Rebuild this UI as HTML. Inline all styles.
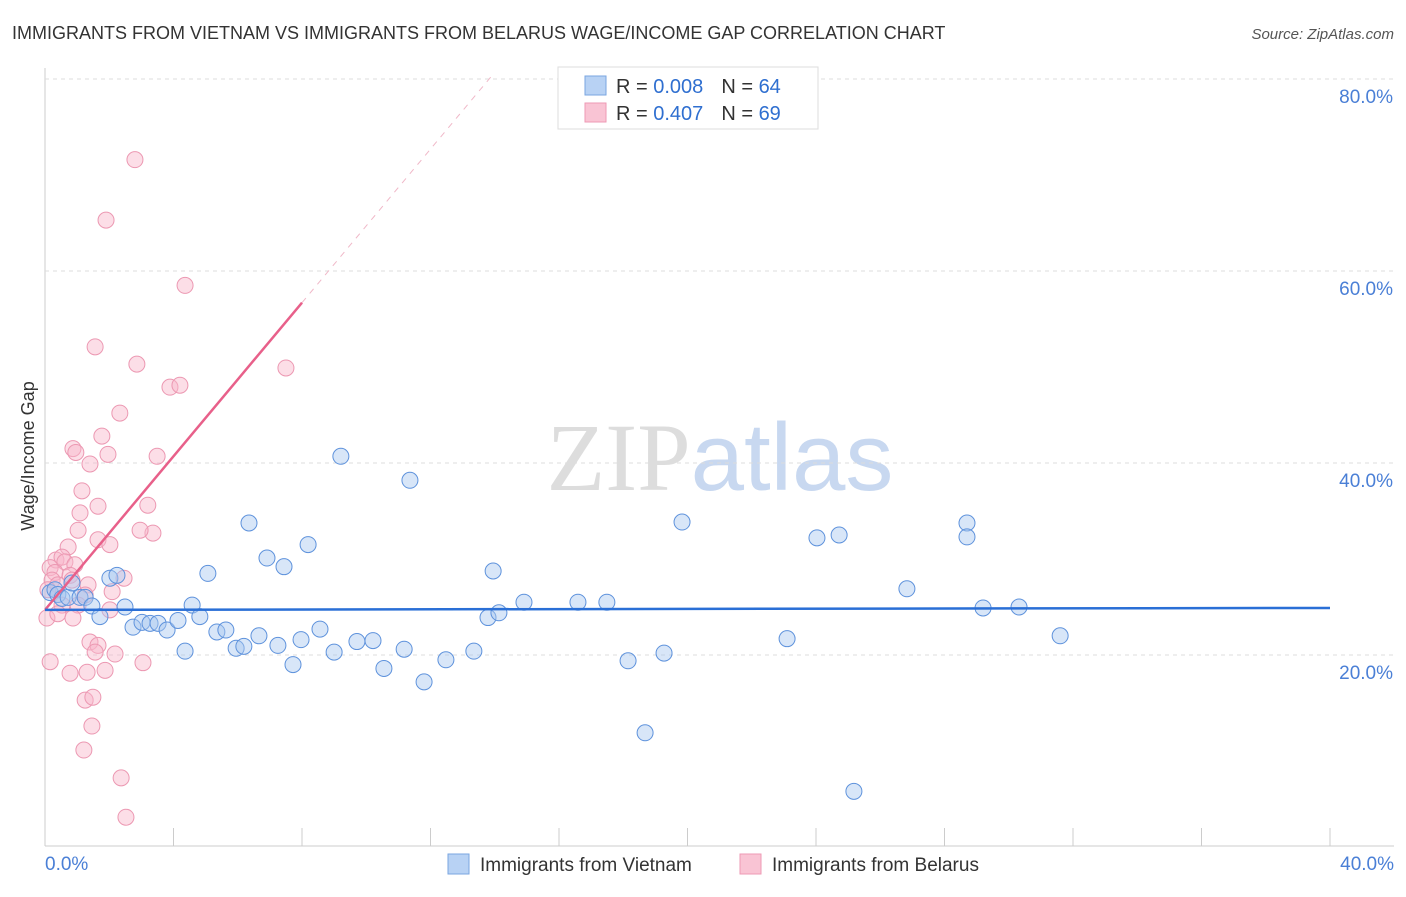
<!DOCTYPE html>
<html><head><meta charset="utf-8"><style>
body{margin:0;background:#fff;font-family:"Liberation Sans",sans-serif;}
svg text{font-family:"Liberation Sans",sans-serif;}
</style></head><body>
<svg id="chart" width="1406" height="892" viewBox="0 0 1406 892" xmlns="http://www.w3.org/2000/svg">
<text x="12" y="39" font-size="18" fill="#333">IMMIGRANTS FROM VIETNAM VS IMMIGRANTS FROM BELARUS WAGE/INCOME GAP CORRELATION CHART</text>
<text x="1394" y="39" font-size="15" fill="#555" text-anchor="end" font-style="italic">Source: ZipAtlas.com</text>
<text x="720" y="490" font-size="96" text-anchor="middle"><tspan fill="#ddd" font-family="Liberation Serif">ZIP</tspan><tspan fill="#c8d8f0">atlas</tspan></text>
<text transform="translate(34,456) rotate(-90)" font-size="18" fill="#333" text-anchor="middle">Wage/Income Gap</text>
<g id="grid"></g><g id="ticks"></g><g id="marks"></g><g id="lines"></g>
<g>
<rect x="558" y="67" width="260" height="62" fill="#fff" stroke="#ddd"/>
<rect x="585" y="76" width="21" height="19" fill="#b8d2f4" stroke="#7aa6e0"/>
<rect x="585" y="103" width="21" height="19" fill="#f9c4d4" stroke="#ee9ab4"/>
<text x="616" y="93" font-size="20" fill="#333">R = <tspan fill="#2f6fd0">0.008</tspan><tspan dx="18">N = </tspan><tspan fill="#2f6fd0">64</tspan></text>
<text x="616" y="120" font-size="20" fill="#333">R = <tspan fill="#2f6fd0">0.407</tspan><tspan dx="18">N = </tspan><tspan fill="#2f6fd0">69</tspan></text>
</g>
<g>
<rect x="448" y="854" width="21" height="20" fill="#b8d2f4" stroke="#7aa6e0"/>
<text x="480" y="871" font-size="19" fill="#333">Immigrants from Vietnam</text>
<rect x="740" y="854" width="21" height="20" fill="#f9c4d4" stroke="#ee9ab4"/>
<text x="772" y="871" font-size="19" fill="#333">Immigrants from Belarus</text>
</g>
</svg>
<script>
const xTicks=[0,4,8,12,16,20,24,28,32,36,40];
const yTicks=[20,40,60,80];
const xLabels=["0.0%","40.0%"];
const blueX=[0.16,0.31,0.4,0.53,0.72,0.84,1.09,1.25,1.46,1.71,2.02,2.24,2.49,2.74,3.02,3.27,3.52,3.8,4.14,4.36,4.58,4.82,5.07,5.35,5.63,5.95,6.19,6.35,6.66,6.91,7.25,7.44,7.72,7.97,8.19,8.56,9.0,9.21,9.71,10.21,10.55,11.18,11.36,11.8,12.48,13.35,13.79,13.95,14.13,14.91,16.59,17.49,18.15,18.68,19.27,19.83,23.1,24.03,24.72,25.18,26.83,28.7,28.7,29.2,30.32,31.6];
const blueY=[26.5,26.8,26.3,25.9,26.0,27.5,26.0,26.0,25.1,24.0,28.0,28.3,25.0,22.9,23.4,23.3,23.3,22.6,23.6,20.4,25.2,24.0,28.5,22.4,22.6,20.7,20.9,33.75,22.0,30.1,21.0,29.2,19.0,21.6,31.5,22.7,20.3,40.7,21.4,21.5,18.6,20.6,38.2,17.2,19.5,20.4,23.9,28.75,24.4,25.5,25.5,25.5,19.4,11.9,20.2,33.85,21.7,32.2,32.5,5.8,26.9,33.75,32.3,24.9,25.0,22.0];
const pinkX=[2.8,1.9,4.36,1.56,2.86,7.5,3.89,4.2,2.33,0.87,0.96,1.77,1.96,1.4,3.49,1.15,1.65,1.09,3.2,1.03,3.36,2.96,1.65,2.02,0.72,0.34,0.53,0.62,0.93,0.16,0.31,0.78,0.84,1.34,2.46,0.22,0.4,0.09,0.53,2.09,1.25,1.03,0.06,0.4,0.87,2.02,1.4,1.65,1.56,2.18,0.16,3.05,0.78,1.31,1.87,1.25,1.49,1.46,1.21,2.37,2.52];
const pinkY=[71.6,65.3,58.5,52.1,50.3,49.9,47.9,48.1,45.2,41.5,41.1,42.8,40.9,39.9,40.7,37.1,35.5,34.8,35.6,33.0,32.7,33.0,32.0,31.5,31.25,29.9,30.2,29.7,29.4,29.1,28.6,28.3,27.8,27.3,28.0,27.8,27.3,26.8,25.2,26.6,26.25,25.2,23.85,24.3,23.85,24.7,21.35,21.0,20.3,20.1,19.3,19.2,18.1,18.2,18.4,15.3,15.6,12.6,10.1,7.2,3.1];
const blueTrend=[[0,24.7],[40,24.9]];
const pinkTrendSolid=[[0,24.7],[8,56.7]];
const pinkTrendDash=[[8,56.7],[13.9,80.3]];
const sx=v=>45+v*32.125, sy=v=>847-v*9.6;
const NS="http://www.w3.org/2000/svg";
function mk(p,t,a){const e=document.createElementNS(NS,t);for(const k in a)e.setAttribute(k,a[k]);p.appendChild(e);return e;}
const grid=document.getElementById('grid'),ticks=document.getElementById('ticks'),marks=document.getElementById('marks'),lines=document.getElementById('lines');
let ax=mk(grid,'line',{x1:45,y1:68,x2:45,y2:846,stroke:'#ccc'});


let bx=mk(grid,'line',{x1:45,y1:846,x2:1394,y2:846,stroke:'#ccc'});


yTicks.forEach(v=>{
 const g=mk(grid,'line',{x1:45,y1:sy(v),x2:1394,y2:sy(v),stroke:'#ddd','stroke-dasharray':'4,4'});
 
 
 const t=mk(ticks,'text',{x:1393,y:sy(v)+24,'font-size':19,fill:'#4a7fd6','text-anchor':'end'});
 t.textContent=v.toFixed(1)+'%';
 
 
});
xTicks.forEach(v=>{
 const l=mk(ticks,'line',{x1:sx(v),y1:828,x2:sx(v),y2:846,stroke:'#ccc'});
 
 
});
[[0,xLabels[0],'start',45],[40,xLabels[1],'end',1394]].forEach(d=>{
 const t=mk(ticks,'text',{x:d[3],y:870,'font-size':19,fill:'#4a7fd6','text-anchor':d[2]});
 t.textContent=d[1];
 
 
});
pinkX.forEach((x,i)=>{
 const c=mk(marks,'circle',{cx:sx(x),cy:sy(pinkY[i]),r:8,fill:'rgba(248,182,202,0.45)',stroke:'#ec98b2','stroke-width':1});
 
 
});
blueX.forEach((x,i)=>{
 const c=mk(marks,'circle',{cx:sx(x),cy:sy(blueY[i]),r:8,fill:'rgba(168,200,240,0.45)',stroke:'#5e92dc','stroke-width':1});
 
 
});
function ln(pts,col,w,dash,name){
 const a={x1:sx(pts[0][0]),y1:sy(pts[0][1]),x2:sx(pts[1][0]),y2:sy(pts[1][1]),stroke:col,'stroke-width':w};
 if(dash)a['stroke-dasharray']=dash;
 const l=mk(lines,'line',a);
 
 
}
ln(pinkTrendDash,'#f0b8c8',1,'6,6','belarus-trend-extension');
ln(pinkTrendSolid,'#e8608a',2.5,null,'belarus-trend-line');
ln(blueTrend,'#2a6fd6',2.5,null,'vietnam-trend-line');
</script>
</body></html>
